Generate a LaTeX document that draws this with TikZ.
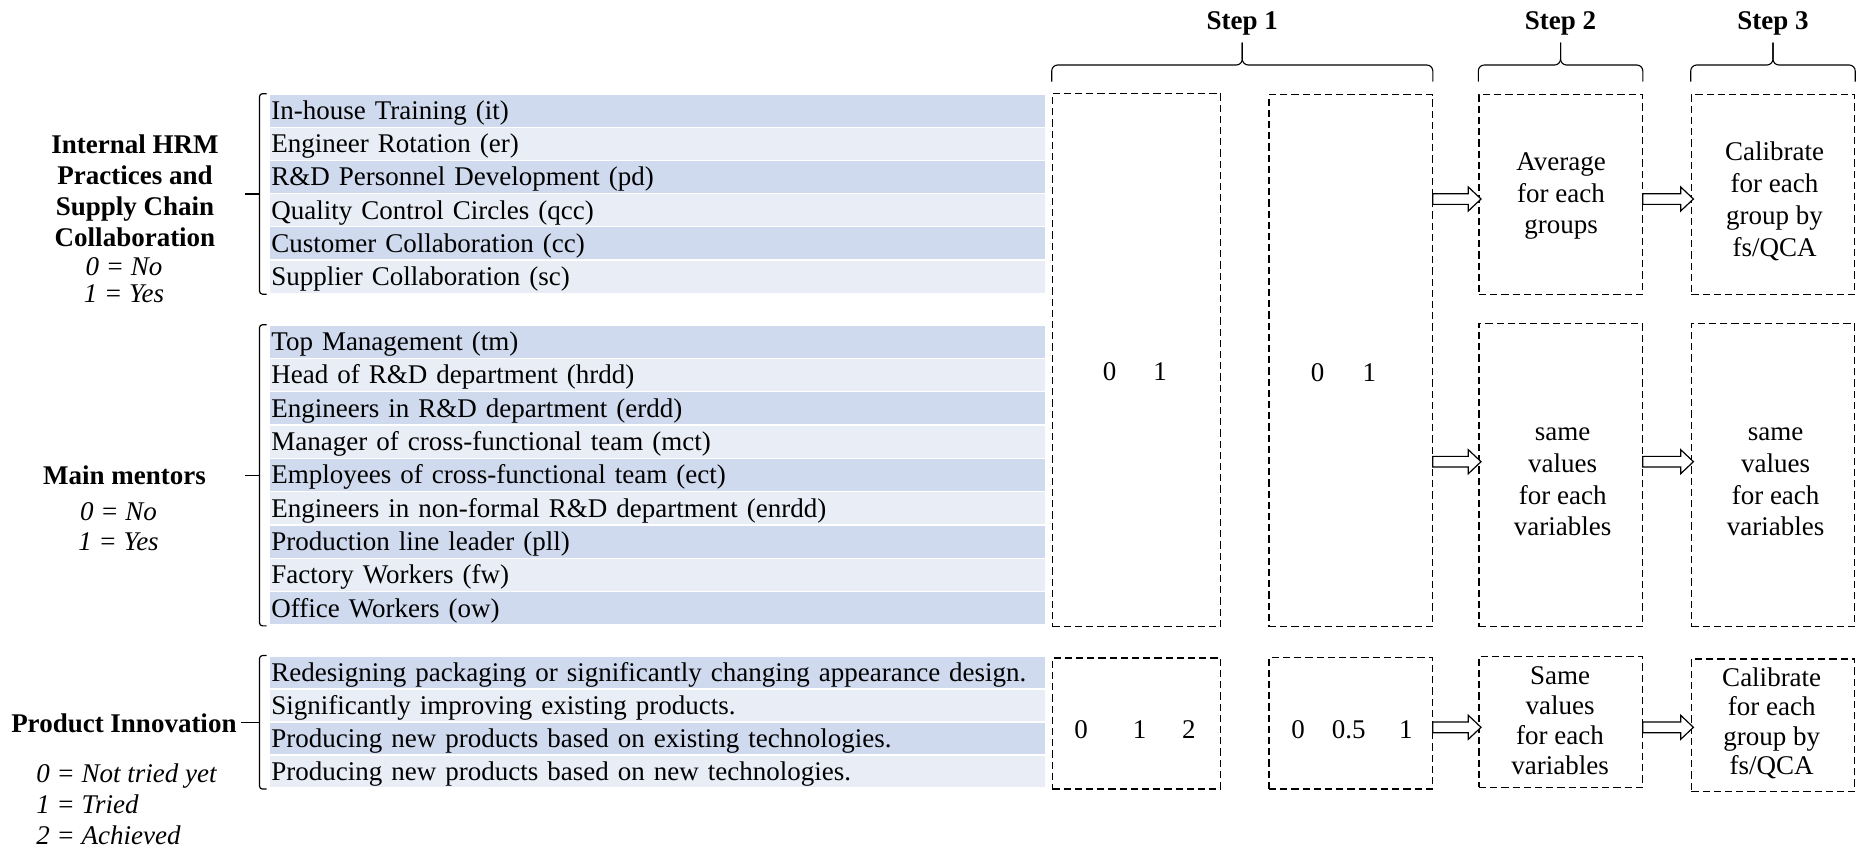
\documentclass[tikz,border=0pt]{standalone}
\usepackage{fontspec}
\setmainfont{Liberation Serif}
\usetikzlibrary{calc}
\definecolor{rowdark}{HTML}{CFDAEE}
\definecolor{rowlight}{HTML}{E9EDF6}
\tikzset{
  txt/.style={inner sep=0pt, font=\fontsize{13.5}{16}\selectfont},
  rowbase/.style={anchor=west, minimum height=15.95pt, text width=386.15pt, text height=11.6pt, text depth=2.8pt, inner xsep=0.5pt, inner ysep=0pt, align=left, font=\fontsize{13.5}{16}\selectfont},
  dbox/.style={draw, line width=0.65pt, dash pattern=on 3.6pt off 2pt, anchor=north west, inner sep=0pt},
  wideA/.style={minimum width=84.15pt},
  wide/.style={minimum width=81.6pt},
  boxtxt/.style={inner sep=0pt, align=center, font=\fontsize{13.5}{15.8}\selectfont},
  steplbl/.style={inner sep=0pt, font=\bfseries\fontsize{13.5}{16}\selectfont},
  grplbl/.style={inner sep=0pt, align=center, font=\bfseries\fontsize{13.5}{15.55}\selectfont},
  legend/.style={inner sep=0pt, font=\itshape\fontsize{13.5}{15}\selectfont},
  brk/.style={line width=0.6pt, rounded corners=1.5pt},
  brc/.style={line width=0.55pt, rounded corners=3pt},
  blockarr/.style={draw, fill=white, line width=0.6pt, miter limit=10,
    to path={($(\tikztostart)+(0,-5.35)$) -- ($(\tikztotarget)+(-12.7,-5.35)$) -- ($(\tikztotarget)+(-12.7,-12)$) -- (\tikztotarget) -- ($(\tikztotarget)+(-12.7,12)$) -- ($(\tikztotarget)+(-12.7,5.35)$) -- ($(\tikztostart)+(0,5.35)$) -- cycle}},
}
\begin{document}
\begin{tikzpicture}[x=0.5pt,y=-0.5pt]
\useasboundingbox (0,0) rectangle (1858,847);

% ---------- rows ----------
\foreach \t/\c [count=\i] in {In-house Training (it)/rowdark, Engineer Rotation (er)/rowlight, R\&D Personnel Development (pd)/rowdark, Quality Control Circles (qcc)/rowlight, Customer Collaboration (cc)/rowdark, Supplier Collaboration (sc)/rowlight}
  \node[rowbase, fill=\c] (g1-\i) at (270,{94+33.2*(\i-0.5)}) {\t};

\foreach \t/\c [count=\i] in {Top Management (tm)/rowdark, Head of R\&D department (hrdd)/rowlight, Engineers in R\&D department (erdd)/rowdark, Manager of cross-functional team (mct)/rowlight, Employees of cross-functional team (ect)/rowdark, Engineers in non-formal R\&D department (enrdd)/rowlight, Production line leader (pll)/rowdark, Factory Workers (fw)/rowlight, Office Workers (ow)/rowdark}
  \node[rowbase, fill=\c] (g2-\i) at (270,{325+33.33*(\i-0.5)}) {\t};

\foreach \t/\c [count=\i] in {Redesigning packaging or significantly changing appearance design./rowdark, Significantly improving existing products./rowlight, Producing new products based on existing technologies./rowdark, Producing new products based on new technologies./rowlight}
  \node[rowbase, fill=\c] (g3-\i) at (270,{656+33*(\i-0.5)}) {\t};

% ---------- group labels ----------
\node[grplbl] (L1) at (135,190.5) {Internal HRM\\Practices and\\Supply Chain\\Collaboration};
\node[legend, align=center, font=\itshape\fontsize{13.5}{13.4}\selectfont] (L1v) at (124,280) {0 = No\\1 = Yes};
\node[grplbl] (L2) at (124.6,475) {Main mentors};
\node[legend, align=center] (L2v) at (118.6,527) {0 = No\\1 = Yes};
\node[grplbl] (L3) at (123.9,723.5) {Product Innovation};
\node[legend, align=left, anchor=west, font=\itshape\fontsize{13.5}{15.4}\selectfont] (L3v) at (36,804.5) {0 = Not tried yet\\1 = Tried\\2 = Achieved};

% ---------- brackets ----------
\coordinate (g1t) at ($(g1-1.north west)+(-10.5,-0.6)$);
\coordinate (g1b) at ($(g1-6.south west)+(-10.5,1.2)$);
\draw[brk] ($(g1t)+(7,0)$) -- (g1t) -- (g1b) -- ($(g1b)+(7,0)$);
\coordinate (g1m) at ($(g1t)!0.5!(g1b)$);
\draw[brk] (g1m) -- ++(-14.5,0);

\coordinate (g2t) at ($(g2-1.north west)+(-10.5,-0.6)$);
\coordinate (g2b) at ($(g2-9.south west)+(-10.5,1.2)$);
\draw[brk] ($(g2t)+(7,0)$) -- (g2t) -- (g2b) -- ($(g2b)+(7,0)$);
\coordinate (g2m) at ($(g2t)!0.5!(g2b)$);
\draw[brk] (g2m) -- ++(-14.5,0);

\coordinate (g3t) at ($(g3-1.north west)+(-10.5,-0.6)$);
\coordinate (g3b) at ($(g3-4.south west)+(-10.5,1.2)$);
\draw[brk] ($(g3t)+(7,0)$) -- (g3t) -- (g3b) -- ($(g3b)+(7,0)$);
\coordinate (g3m) at ($(g3t)!0.5!(g3b)$);
\draw[brk] (g3m) -- ($(L3.east |- g3m)+(4,0)$);

% ---------- dashed boxes ----------
\node[dbox, wideA, minimum height=266.65pt] (A) at (1051.7,92.7) {};
\node[dbox, wide, minimum height=266pt] (B) at (1268.3,94) {};
\node[dbox, wide, minimum height=100pt] (S2a) at (1478.3,94) {};
\node[dbox, wide, minimum height=100pt] (S3a) at (1690.7,94) {};
\node[dbox, wide, minimum height=151.65pt] (S2b) at (1478.3,322.7) {};
\node[dbox, wide, minimum height=151.65pt] (S3b) at (1690.7,322.7) {};
\node[dbox, wideA, minimum height=65.5pt] (A3) at (1051.7,657.3) {};
\node[dbox, wide, minimum height=65.8pt] (B3) at (1268.3,656.7) {};
\node[dbox, wide, minimum height=65.35pt] (S2c) at (1478.3,656) {};
\node[dbox, wide, minimum height=66.2pt] (S3c) at (1690.7,658.3) {};

% ---------- box texts ----------
\node[txt] (tA) at (1134.75,372) {0\hspace{18.5pt}1};
\node[txt] (tB) at (1343.5,373) {0\hspace{19.25pt}1};
\node[boxtxt, font=\fontsize{13.5}{15.75}\selectfont] (tS2a) at (1561,196) {Average\\for each\\groups};
\node[boxtxt, font=\fontsize{13.5}{16}\selectfont] (tS3a) at (1774.5,201) {Calibrate\\for each\\group by\\fs/QCA};
\node[boxtxt, font=\fontsize{13.5}{15.85}\selectfont] (tS2b) at (1562.7,482) {same\\values\\for each\\variables};
\node[boxtxt, font=\fontsize{13.5}{15.85}\selectfont] (tS3b) at (1775.6,482) {same\\values\\for each\\variables};
\node[txt] (tA3) at (1134.9,730) {0\hspace{22.55pt}1\hspace{17.85pt}2};
\node[txt] (tB3) at (1352,730) {0\hspace{13.5pt}0.5\hspace{16.8pt}1};
\node[boxtxt, font=\fontsize{13.5}{15}\selectfont] (tS2c) at (1560,720.5) {Same\\values\\for each\\variables};
\node[boxtxt, font=\fontsize{13.5}{14.75}\selectfont] (tS3c) at (1771.7,723.5) {Calibrate\\for each\\group by\\fs/QCA};

% ---------- arrows ----------
\coordinate (ay1) at (0,199);
\coordinate (ay2) at (0,461.7);
\coordinate (ay3) at (0,727.3);
\coordinate (a1s) at (B.east |- ay1);
\coordinate (a1e) at ($(S2a.west |- ay1)+(2.7,0)$);
\coordinate (a2s) at (S2a.east |- ay1);
\coordinate (a2e) at ($(S3a.west |- ay1)+(2.7,0)$);
\coordinate (a3s) at (B.east |- ay2);
\coordinate (a3e) at ($(S2b.west |- ay2)+(2.7,0)$);
\coordinate (a4s) at (S2b.east |- ay2);
\coordinate (a4e) at ($(S3b.west |- ay2)+(2.7,0)$);
\coordinate (a5s) at (B3.east |- ay3);
\coordinate (a5e) at ($(S2c.west |- ay3)+(2.7,0)$);
\coordinate (a6s) at (S2c.east |- ay3);
\coordinate (a6e) at ($(S3c.west |- ay3)+(2.7,0)$);
\draw[blockarr] (a1s) to (a1e);
\draw[blockarr] (a2s) to (a2e);
\draw[blockarr] (a3s) to (a3e);
\draw[blockarr] (a4s) to (a4e);
\draw[blockarr] (a5s) to (a5e);
\draw[blockarr] (a6s) to (a6e);

% ---------- braces & step labels ----------
\coordinate (bry) at (0,65);
\coordinate (bre) at (0,81.7);
\coordinate (brp) at (0,42.7);
\coordinate (sly) at (0,23.5);
\coordinate (s1m) at ($(A.north west)!0.5!(B.north east)$);
\draw[brc] (A.west |- bre) -- (A.west |- bry) -- (s1m |- bry) -- (s1m |- brp);
\draw[brc] (s1m |- brp) -- (s1m |- bry) -- (B.east |- bry) -- (B.east |- bre);
\draw[brc] (S2a.west |- bre) -- (S2a.west |- bry) -- (S2a.north |- bry) -- (S2a.north |- brp);
\draw[brc] (S2a.north |- brp) -- (S2a.north |- bry) -- (S2a.east |- bry) -- (S2a.east |- bre);
\draw[brc] (S3a.west |- bre) -- (S3a.west |- bry) -- (S3a.north |- bry) -- (S3a.north |- brp);
\draw[brc] (S3a.north |- brp) -- (S3a.north |- bry) -- (S3a.east |- bry) -- (S3a.east |- bre);
\node[steplbl] (st1) at (s1m |- sly) {Step 1};
\node[steplbl] (st2) at (S2a.north |- sly) {Step 2};
\node[steplbl] (st3) at (S3a.north |- sly) {Step 3};
\end{tikzpicture}
\end{document}
